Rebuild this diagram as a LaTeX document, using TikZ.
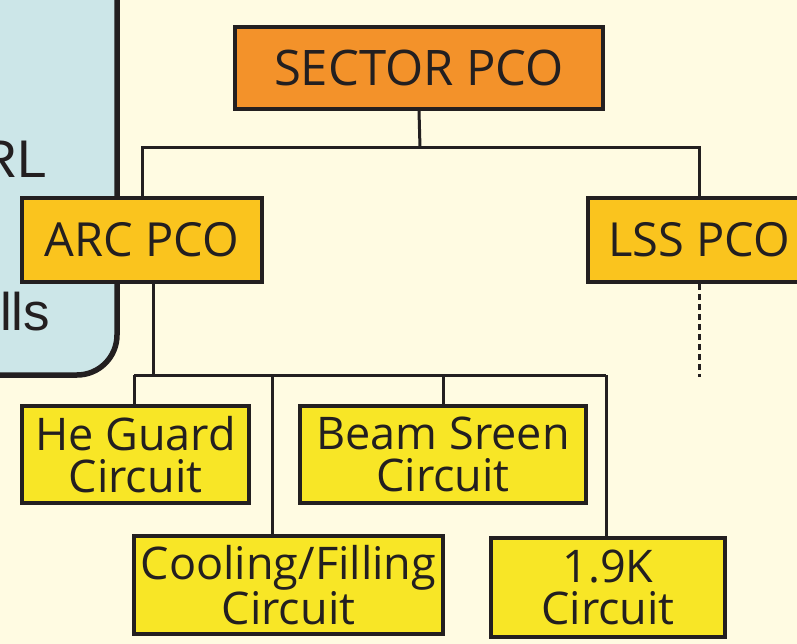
\documentclass[tikz,border=0pt]{standalone}
\usepackage{fontspec}
\setmainfont{Open Sans}
\newfontfamily\panelfont{Liberation Sans}
\definecolor{bgcream}{HTML}{FFFBE2}
\definecolor{panelblue}{HTML}{CCE6E8}
\definecolor{inkdark}{HTML}{231F20}
\definecolor{orangebox}{HTML}{F3922A}
\definecolor{goldbox}{HTML}{FAC41E}
\definecolor{yellowbox}{HTML}{F8E626}
\tikzset{
  boxbase/.style={draw=inkdark, line width=3.5pt, rectangle, inner sep=0pt, align=center, text=inkdark,
    font=\fontsize{45}{42}\selectfont},
  sectorbox/.style={boxbase, fill=orangebox, font=\fontsize{49}{42}\selectfont},
  pcobox/.style={boxbase, fill=goldbox, font=\fontsize{47}{42}\selectfont},
  circbox/.style={boxbase, fill=yellowbox},
  conn/.style={draw=inkdark, line width=3pt},
  paneltext/.style={inner sep=0pt, text=inkdark, font=\panelfont\fontsize{53}{60}\selectfont}
}
\begin{document}
\begin{tikzpicture}[x=1pt, y=-1pt]
\useasboundingbox (0,0) rectangle (797,644);
\clip (0,0) rectangle (797,644);
\fill[bgcream] (0,0) rectangle (797,644);
% left panel
\draw[fill=panelblue, draw=inkdark, line width=5.5pt, rounded corners=40pt] (-60,-60) rectangle (117,375);
\node[paneltext, anchor=base east] (rl) at (47,178) {RL};
\node[paneltext, anchor=base west] (lls) at (0,330) {lls};
% boxes
\node[sectorbox, minimum width=368pt, minimum height=82pt] (sector) at (419,68) {SECTOR PCO};
\node[pcobox, minimum width=240pt, minimum height=84pt] (arc) at (142,240) {ARC PCO};
\node[pcobox, minimum width=222pt, minimum height=84pt] (lss) at (699,240) {LSS PCO};
\node[circbox, minimum width=227pt, minimum height=97pt] (heguard) at (135.5,454.5) {He Guard\\Circuit};
\node[circbox, minimum width=286pt, minimum height=97pt] (beam) at (443,454.5) {Beam Sreen\\Circuit};
\node[circbox, minimum width=309pt, minimum height=98pt] (cooling) at (288.5,585) {Cooling/Filling\\Circuit};
\node[circbox, minimum width=234pt, minimum height=99pt] (k19) at (608,587.5) {1.9K\\Circuit};
% connectors top level
\coordinate (tb) at (420,148);
\draw[conn] (sector.south) -- (tb);
\draw[conn] (arc.north) |- (tb) -| (lss.north);
\coordinate (ld) at (699,377);
\draw[conn, dash pattern=on 6pt off 4pt] (lss.south) -- (ld);
% bus below ARC
\coordinate (ad) at (153,375);
\coordinate (c1) at (134,375);
\coordinate (c2) at (272,375);
\coordinate (c3) at (443,375);
\coordinate (c4) at (606,375);
\draw[conn] (arc.south -| ad) -- (ad);
\draw[conn] (c1) -- (c4);
\draw[conn] (c1) -- (c1 |- heguard.north);
\draw[conn] (c2) -- (c2 |- cooling.north);
\draw[conn] (c3) -- (c3 |- beam.north);
\draw[conn] (c4) -- (c4 |- k19.north);
\end{tikzpicture}
\end{document}
